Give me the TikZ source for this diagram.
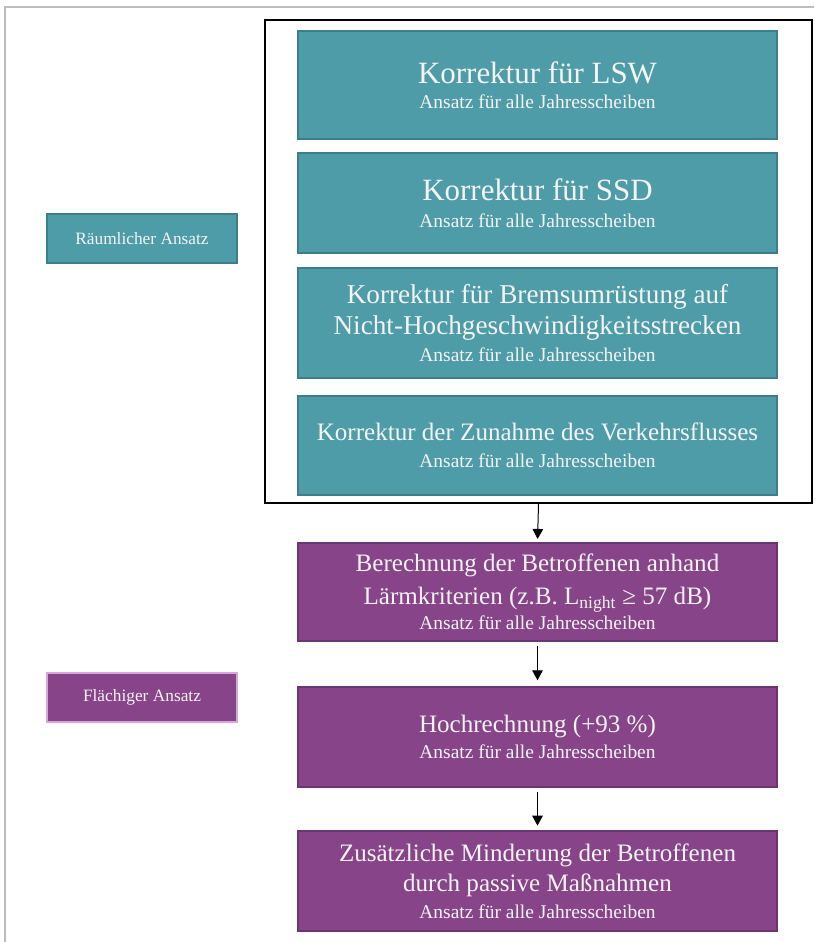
\documentclass[tikz,border=0pt]{standalone}
\usepackage{fontspec}
\setmainfont{Liberation Serif}
\usetikzlibrary{arrows.meta}
\definecolor{tuerkis}{HTML}{4E9CA8}
\definecolor{tuerkisrand}{HTML}{3E7E88}
\definecolor{lila}{HTML}{874489}
\definecolor{lilarand}{HTML}{6C3470}
\definecolor{lilahell}{HTML}{D7A6DA}
\definecolor{schrift}{HTML}{F4F4F4}
\definecolor{randgrau}{HTML}{BDBDBD}
\newcommand{\ansatz}{{\fontsize{14.6}{17}\selectfont Ansatz für alle Jahresscheiben}}
\newcommand{\gross}{\fontsize{23.2}{26}\selectfont}
\newcommand{\breit}{\fontsize{20.4}{23.5}\selectfont}
\newcommand{\mittel}{\fontsize{18.8}{23.5}\selectfont}

\begin{document}
\begin{tikzpicture}[x=0.75pt,y=-0.75pt]
\tikzstyle{kasten}=[rectangle, inner sep=0pt, line width=1.1pt, text=schrift, align=center, minimum width=359pt, font=\mittel]
\tikzstyle{raum}=[kasten, draw=tuerkisrand, fill=tuerkis]
\tikzstyle{flaeche}=[kasten, draw=lilarand, fill=lila]
\tikzstyle{marke}=[rectangle, inner sep=0pt, line width=1.1pt, text=schrift, minimum width=142.5pt, minimum height=36.75pt, font=\fontsize{13}{15}\selectfont]
\tikzstyle{pfeil}=[line width=0.75pt, -{Triangle[length=7.5pt,width=8pt]}]
\useasboundingbox (0,0) rectangle (814,942);
% grauer Seitenrand
\draw[randgrau, line width=1.2pt] (5,942) -- (5,7) -- (814,7);
% Rahmen um die raeumlichen Korrekturen
\node[draw=black, line width=1.5pt, minimum width=410.25pt, minimum height=362.25pt] (rahmen) at (538.5,261.5) {};
\node[raum, font=\gross, minimum height=81pt] (lsw) at (537.5,85) {Korrektur für LSW\\[-7pt]\ansatz};
\node[raum, font=\gross, minimum height=75pt] (ssd) at (537.5,203) {Korrektur für SSD\\[-6pt]\ansatz};
\node[raum, font=\breit, minimum height=82.5pt] (brems) at (537.5,323) {Korrektur für Bremsumrüstung auf\\Nicht-Hochgeschwindigkeitsstrecken\\[-3pt]\ansatz};
\node[raum, minimum height=74.25pt] (verkehr) at (537.5,445.5) {Korrektur der Zunahme des Verkehrsflusses\\[-3pt]\ansatz};
\node[flaeche, minimum height=73.5pt] (betroffene) at (537.5,592) {Berechnung der Betroffenen anhand\\[1pt]Lärmkriterien (z.B. L\textsubscript{night} ≥ 57 dB)\\[-4.5pt]\ansatz};
\node[flaeche, minimum height=75pt] (hoch) at (537.5,737) {Hochrechnung (+93 \%)\\[-4pt]\ansatz};
\node[flaeche, minimum height=75pt] (passiv) at (537.5,881) {Zusätzliche Minderung der Betroffenen\\[-0.5pt]durch passive Maßnahmen\\[-3.5pt]\ansatz};
% Beschriftungen links
\node[marke, draw=tuerkisrand, fill=tuerkis] (raeumlich) at (142,238.5) {Räumlicher Ansatz};
\node[marke, draw=lilahell, fill=lila] (flaechig) at (142,697.5) {Flächiger Ansatz};
% Pfeile
\draw[pfeil, shorten >=2.5pt] (rahmen.south) -- (betroffene.north);
\draw[pfeil, shorten <=3pt, shorten >=4.5pt] (betroffene.south) -- (hoch.north);
\draw[pfeil, shorten <=3pt, shorten >=3.5pt] (hoch.south) -- (passiv.north);
\end{tikzpicture}
\end{document}
